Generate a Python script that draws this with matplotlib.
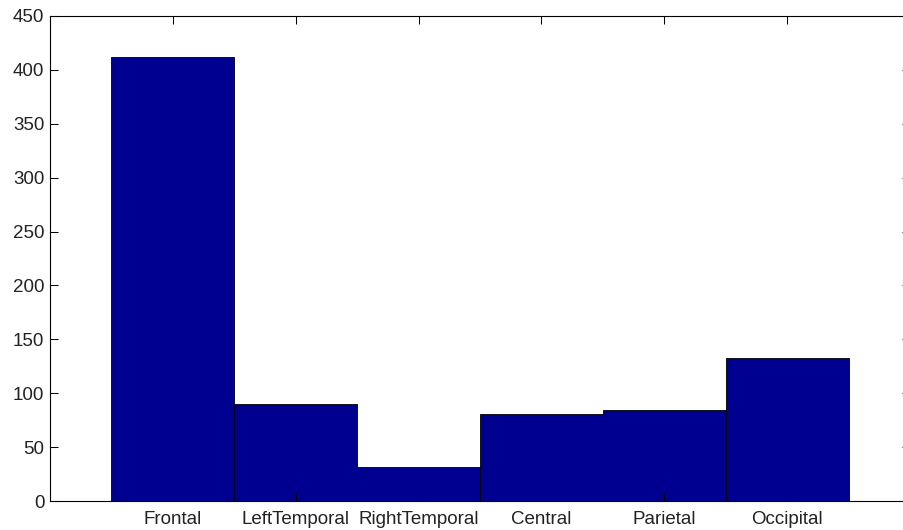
import matplotlib
matplotlib.use("Agg")
import matplotlib.pyplot as plt

categories = ["Frontal", "LeftTemporal", "RightTemporal", "Central", "Parietal", "Occipital"]
values = [412, 90, 32, 81, 84, 133]
yticks = [0, 50, 100, 150, 200, 250, 300, 350, 400, 450]

W, H = 904, 530
fig = plt.figure(figsize=(W / 100, H / 100), dpi=100)
left, right, top, bottom = 50, 910, 16, 501
ax = fig.add_axes([left / W, (H - bottom) / H, (right - left) / W, (bottom - top) / H])

x = list(range(1, len(categories) + 1))
ax.bar(x, values, width=1.0, color="#000090", edgecolor="black", linewidth=0.6)
ax.set_xlim(0, 7)
ax.set_ylim(0, 450)
ax.set_xticks(x)
ax.set_xticklabels(categories)
ax.set_yticks(yticks)
ax.tick_params(direction="in", length=6, width=0.75, top=True, right=True,
               labelsize=13.5)
ax.tick_params(axis="x", pad=7)
ax.tick_params(axis="y", pad=4)
for lab in ax.get_xticklabels() + ax.get_yticklabels():
    lab.set_fontfamily("Liberation Sans")
    lab.set_color("#222222")
for s in ax.spines.values():
    s.set_linewidth(0.8)

fig.savefig("out.png", dpi=100)
